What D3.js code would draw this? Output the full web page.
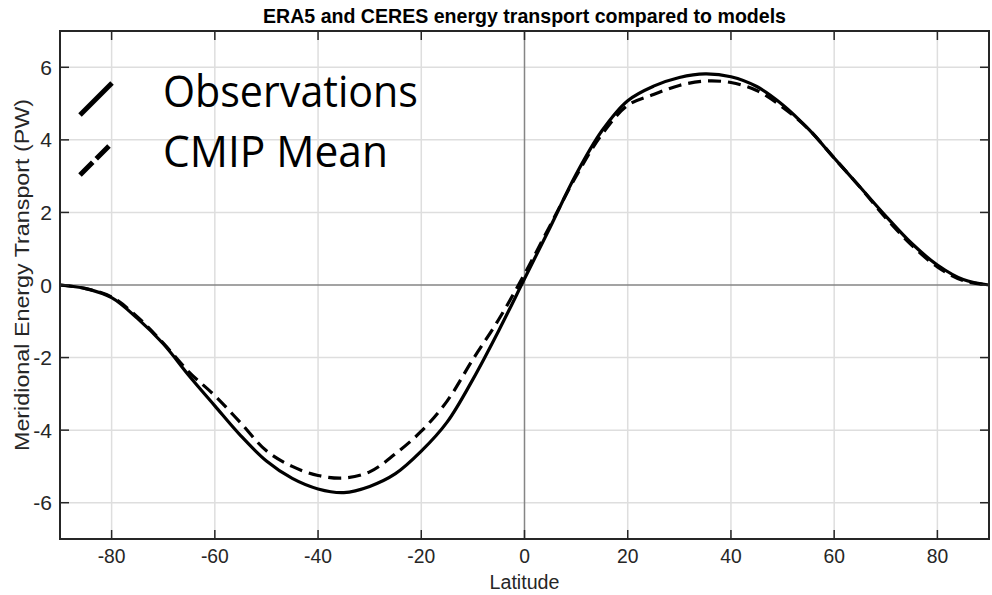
<!DOCTYPE html>
<html>
<head>
<meta charset="utf-8">
<script src="https://cdn.jsdelivr.net/npm/d3@7"></script>
<style>
  html, body { margin: 0; padding: 0; background: #fff; }
  svg { display: block; }
</style>
</head>
<body>
<svg id="chart" width="992" height="595"></svg>
<script>
// latitude grid for both curves
const latitudes = [-90, -85, -80, -75, -70, -65, -60, -55, -50, -45, -40, -35, -30, -25, -20, -15, -10, -5, 0,
  5, 10, 15, 20, 25, 30, 35, 40, 45, 50, 55, 60, 65, 70, 75, 80, 85, 90];
// observed (ERA5 + CERES) transport, PW
const observations = [0, -0.1, -0.35, -0.92, -1.62, -2.5, -3.33, -4.15, -4.85, -5.33, -5.62, -5.72, -5.55, -5.2, -4.58, -3.78, -2.6, -1.26, 0.17,
  1.6, 3.05, 4.25, 5.08, 5.48, 5.72, 5.82, 5.74, 5.47, 4.97, 4.3, 3.5, 2.7, 1.9, 1.15, 0.55, 0.15, 0];
// CMIP multi-model mean, PW
const cmipMean = [0, -0.1, -0.33, -0.88, -1.6, -2.4, -3.05, -3.8, -4.57, -5.0, -5.25, -5.32, -5.15, -4.65, -4.03, -3.2, -2.05, -0.95, 0.3,
  1.65, 3.0, 4.15, 4.95, 5.25, 5.5, 5.62, 5.58, 5.36, 4.9, 4.3, 3.5, 2.7, 1.85, 1.1, 0.5, 0.12, 0];
const xTicks = [-80, -60, -40, -20, 0, 20, 40, 60, 80];
const yTicks = [-6, -4, -2, 0, 2, 4, 6];
const legendLabels = ['Observations', 'CMIP Mean'];

const svg = d3.select('#chart');
const box = { left: 60, right: 989, top: 31, bottom: 539 };

const x = d3.scaleLinear().domain([-90, 90]).range([box.left, box.right]);
const y = d3.scaleLinear().domain([-7, 7]).range([box.bottom, box.top]);

const axisFont = 'Liberation Sans, Arial, Helvetica, sans-serif';
const ink = '#262626';

// grid lines
const grid = svg.append('g');
grid.selectAll('line.vx')
  .data(xTicks.filter((d) => d !== 0))
  .enter().append('line')
  .attr('x1', (d) => x(d)).attr('x2', (d) => x(d))
  .attr('y1', box.top).attr('y2', box.bottom)
  .attr('stroke', '#dedede').attr('stroke-width', 1.5);
grid.selectAll('line.hy')
  .data(yTicks.filter((d) => d !== 0))
  .enter().append('line')
  .attr('x1', box.left).attr('x2', box.right)
  .attr('y1', (d) => y(d)).attr('y2', (d) => y(d))
  .attr('stroke', '#dedede').attr('stroke-width', 1.5);

// zero reference lines
svg.append('line')
  .attr('x1', x(0)).attr('x2', x(0)).attr('y1', box.top).attr('y2', box.bottom)
  .attr('stroke', '#858585').attr('stroke-width', 1.5);
svg.append('line')
  .attr('x1', box.left).attr('x2', box.right).attr('y1', y(0)).attr('y2', y(0))
  .attr('stroke', '#858585').attr('stroke-width', 1.5);

// curves
const line = d3.line()
  .x((d, i) => x(latitudes[i]))
  .y((d) => y(d))
  .curve(d3.curveCatmullRom.alpha(0.5));

svg.append('path')
  .datum(cmipMean)
  .attr('fill', 'none')
  .attr('stroke', '#000')
  .attr('stroke-width', 3.2)
  .attr('stroke-dasharray', '13,7')
  .attr('d', line);

svg.append('path')
  .datum(observations)
  .attr('fill', 'none')
  .attr('stroke', '#000')
  .attr('stroke-width', 3.2)
  .attr('d', line);

// frame and inward ticks (all four sides)
const tickLen = 9;
const ticks = svg.append('g').attr('stroke', ink).attr('stroke-width', 1.5);
xTicks.forEach((t) => {
  ticks.append('line').attr('x1', x(t)).attr('x2', x(t)).attr('y1', box.bottom).attr('y2', box.bottom - tickLen);
  ticks.append('line').attr('x1', x(t)).attr('x2', x(t)).attr('y1', box.top).attr('y2', box.top + tickLen);
});
yTicks.forEach((t) => {
  ticks.append('line').attr('x1', box.left).attr('x2', box.left + tickLen).attr('y1', y(t)).attr('y2', y(t));
  ticks.append('line').attr('x1', box.right).attr('x2', box.right - tickLen).attr('y1', y(t)).attr('y2', y(t));
});
svg.append('rect')
  .attr('x', box.left).attr('y', box.top)
  .attr('width', box.right - box.left).attr('height', box.bottom - box.top)
  .attr('fill', 'none').attr('stroke', ink).attr('stroke-width', 2);

// tick labels
svg.selectAll('text.xt')
  .data(xTicks)
  .enter().append('text')
  .attr('transform', (d) => `translate(${x(d)},${box.bottom + 24}) scale(0.92,1)`)
  .attr('text-anchor', 'middle')
  .attr('font-family', axisFont)
  .attr('font-size', 21)
  .attr('fill', ink)
  .text((d) => d);

svg.selectAll('text.yt')
  .data(yTicks)
  .enter().append('text')
  .attr('x', box.left - 8)
  .attr('y', (d) => y(d) + 7.5)
  .attr('text-anchor', 'end')
  .attr('font-family', axisFont)
  .attr('font-size', 21)
  .attr('fill', ink)
  .text((d) => d);

// axis titles
svg.append('text')
  .attr('x', x(0))
  .attr('y', 589)
  .attr('text-anchor', 'middle')
  .attr('font-family', axisFont)
  .attr('font-size', 20)
  .attr('fill', ink)
  .attr('textLength', 70)
  .attr('lengthAdjust', 'spacingAndGlyphs')
  .text('Latitude');

svg.append('text')
  .attr('transform', 'translate(29,275) rotate(-90)')
  .attr('text-anchor', 'middle')
  .attr('font-family', axisFont)
  .attr('font-size', 20)
  .attr('fill', ink)
  .attr('textLength', 352)
  .attr('lengthAdjust', 'spacingAndGlyphs')
  .text('Meridional Energy Transport (PW)');

// title
svg.append('text')
  .attr('x', x(0))
  .attr('y', 23)
  .attr('text-anchor', 'middle')
  .attr('font-family', axisFont)
  .attr('font-weight', 'bold')
  .attr('font-size', 21)
  .attr('fill', '#000')
  .attr('textLength', 523)
  .attr('lengthAdjust', 'spacingAndGlyphs')
  .text('ERA5 and CERES energy transport compared to models');

// legend with slanted line samples
const legend = svg.append('g');
const legendRows = [
  { label: legendLabels[0], dash: null, baseY: 107 },
  { label: legendLabels[1], dash: '18,5', baseY: 167 },
];
legendRows.forEach((r) => {
  legend.append('line')
    .attr('x1', 80).attr('y1', r.baseY + 8)
    .attr('x2', 112).attr('y2', r.baseY - 24)
    .attr('stroke', '#000').attr('stroke-width', 5)
    .attr('stroke-dasharray', r.dash);
  legend.append('text')
    .attr('x', 163).attr('y', r.baseY)
    .attr('font-family', 'Open Sans, sans-serif')
    .attr('font-size', 43)
    .attr('fill', '#000')
    .attr('textLength', r.label === 'Observations' ? 255 : 225)
    .attr('lengthAdjust', 'spacingAndGlyphs')
    .text(r.label);
});
</script>
</body>
</html>
